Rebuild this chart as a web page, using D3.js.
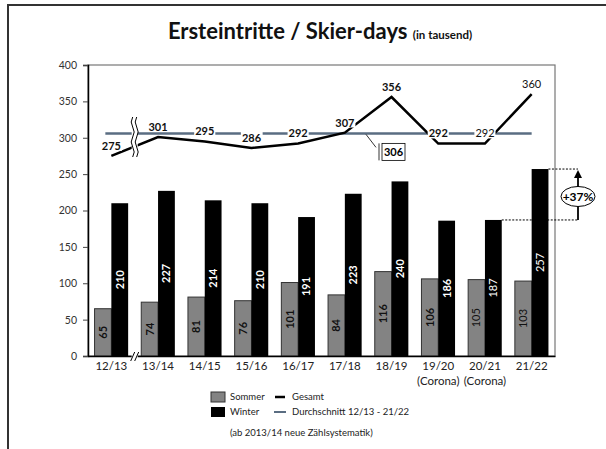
<!DOCTYPE html>
<html>
<head>
<meta charset="utf-8">
<script src="https://cdn.jsdelivr.net/npm/d3@7"></script>
<style>
  body { margin: 0; background: #fff; }
  text { font-family: Lato, "Open Sans", sans-serif; }
</style>
</head>
<body>
<svg id="svg1" width="606" height="449"></svg>
<script>
// data (thousands)
var seasons = ["12/13", "13/14", "14/15", "15/16", "16/17", "17/18", "18/19", "19/20", "20/21", "21/22"];
var subLabels = ["", "", "", "", "", "", "", "(Corona)", "(Corona)", ""];
var sommer = [65, 74, 81, 76, 101, 84, 116, 106, 105, 103];
var winter = [210, 227, 214, 210, 191, 223, 240, 186, 187, 257];
var gesamt = [275, 301, 295, 286, 292, 307, 356, 292, 292, 360];
var durchschnitt = 306;
var yTicks = [0, 50, 100, 150, 200, 250, 300, 350, 400];
var zuwachs = "+37%";

var svg = d3.select("#svg1");

var plotLeft = 88, plotRight = 555, plotTop = 65, plotBottom = 356;

var x = d3.scaleBand().domain(seasons).range([plotLeft, plotRight]).padding(0);
var xs = d3.scaleBand().domain(["s", "w"]).range([0, x.bandwidth()]).paddingInner(0).paddingOuter(0.39);
var y = d3.scaleLinear().domain([0, 400]).range([plotBottom, plotTop]);

function cx(i) { return x(seasons[i]) + x.bandwidth() / 2; }
function isBold(i) { return i < 8; }

// outer frame (only top + left visible)
svg.append("path")
   .attr("d", "M8,449 L8,5 L606,5")
   .attr("fill", "none")
   .attr("stroke", "#333")
   .attr("stroke-width", 2);

// title
var title = svg.append("text")
   .attr("x", 320)
   .attr("y", 39)
   .attr("text-anchor", "middle")
   .attr("font-weight", "bold")
   .attr("font-size", 22)
   .attr("fill", "#111");
title.append("tspan").text("Ersteintritte / Skier-days ");
title.append("tspan").attr("font-size", 11.5).text("(in tausend)");

// plot frame
svg.append("rect")
   .attr("x", plotLeft).attr("y", plotTop)
   .attr("width", plotRight - plotLeft).attr("height", plotBottom - plotTop)
   .attr("fill", "none")
   .attr("stroke", "#777")
   .attr("stroke-width", 1.2);

// y axis
var yAxis = svg.append("g")
   .attr("transform", "translate(" + plotLeft + ",0)")
   .call(d3.axisLeft(y).tickValues(yTicks).tickSize(5).tickPadding(6));
yAxis.select(".domain").attr("stroke", "#000").attr("stroke-width", 1.5);
yAxis.selectAll(".tick line").attr("stroke", "#444");
yAxis.selectAll(".tick text").attr("font-size", 10.5).attr("fill", "#333")
     .style("font-family", "Lato, sans-serif");

// bars
var g = svg.append("g");
seasons.forEach(function(s, i) {
  var x0 = x(s);
  g.append("rect")
   .attr("x", x0 + xs("s")).attr("y", y(sommer[i]))
   .attr("width", xs.bandwidth()).attr("height", y(0) - y(sommer[i]))
   .attr("fill", "#838383").attr("stroke", "#333").attr("stroke-width", 1);
  g.append("rect")
   .attr("x", x0 + xs("w")).attr("y", y(winter[i]))
   .attr("width", xs.bandwidth()).attr("height", y(0) - y(winter[i]))
   .attr("fill", "#000");

  var sx = x0 + xs("s") + xs.bandwidth() / 2, sy = (y(sommer[i]) + y(0)) / 2;
  g.append("text")
   .attr("transform", "translate(" + sx + "," + sy + ") rotate(-90)")
   .attr("text-anchor", "middle").attr("dy", "0.35em")
   .attr("font-size", 11).attr("font-weight", isBold(i) ? "bold" : "normal")
   .attr("fill", "#111").text(sommer[i]);

  var wx = x0 + xs("w") + xs.bandwidth() / 2, wy = (y(winter[i]) + y(0)) / 2;
  g.append("text")
   .attr("transform", "translate(" + wx + "," + wy + ") rotate(-90)")
   .attr("text-anchor", "middle").attr("dy", "0.35em")
   .attr("font-size", 11).attr("font-weight", isBold(i) ? "bold" : "normal")
   .attr("fill", "#fff").text(winter[i]);
});

// x axis
var xAxis = svg.append("g")
   .attr("transform", "translate(0," + plotBottom + ")")
   .call(d3.axisBottom(x).tickSize(0).tickPadding(6));
xAxis.select(".domain").attr("stroke", "#000").attr("stroke-width", 1.5);
xAxis.selectAll(".tick text").attr("font-size", 11.5).attr("fill", "#222")
     .style("font-family", "Lato, sans-serif");
xAxis.selectAll(".tick").append("text")
     .attr("y", 21).attr("dy", "0.71em")
     .attr("text-anchor", "middle")
     .attr("font-size", 11.5).attr("fill", "#222")
     .text(function(d, i) { return subLabels[i]; });

// axis break on x axis
var bx = x(seasons[1]);
svg.append("rect").attr("x", bx - 3).attr("y", plotBottom - 2).attr("width", 6).attr("height", 4).attr("fill", "#fff");
[-2, 2].forEach(function(o) {
  svg.append("line")
     .attr("x1", bx + o - 2).attr("y1", plotBottom + 5)
     .attr("x2", bx + o + 2).attr("y2", plotBottom - 4)
     .attr("stroke", "#000").attr("stroke-width", 1);
});

// average line
svg.append("line")
   .attr("x1", cx(0) - 6).attr("x2", cx(seasons.length - 1))
   .attr("y1", y(durchschnitt)).attr("y2", y(durchschnitt))
   .attr("stroke", "#5a6d82").attr("stroke-width", 2.5);

// total line
var line = d3.line().x(function(d, i) { return cx(i); }).y(function(d) { return y(d); });
svg.append("path")
   .datum(gesamt)
   .attr("d", line)
   .attr("fill", "none")
   .attr("stroke", "#000")
   .attr("stroke-width", 2.5);

// break mark on the total line
svg.append("rect").attr("x", bx - 3).attr("y", 117).attr("width", 6).attr("height", 40).attr("fill", "#fff");
[-2, 2].forEach(function(o) {
  var px = bx + o;
  svg.append("path")
     .attr("d", "M" + px + ",117 q-3,5 0,10 q3,5 0,10 q-3,5 0,10 q3,5 0,10")
     .attr("fill", "none").attr("stroke", "#000").attr("stroke-width", 1);
});

// labels on the total line
gesamt.forEach(function(v, i) {
  var t = svg.append("text")
     .attr("x", cx(i)).attr("y", y(v) - 10).attr("dy", "0.35em")
     .attr("text-anchor", "middle")
     .attr("font-size", 11).attr("font-weight", isBold(i) ? "bold" : "normal")
     .attr("fill", "#111").text(v);
  var bb = t.node().getBBox();
  svg.insert("rect", function() { return t.node(); })
     .attr("x", bb.x - 1).attr("y", bb.y + 1)
     .attr("width", bb.width + 2).attr("height", bb.height - 2)
     .attr("fill", "#fff");
});

// callout for the average value
var ay = y(durchschnitt);
svg.append("path")
   .attr("d", "M366," + (ay + 1) + " L376," + (ay + 14) + " M379," + (ay + 10) + " L379," + (ay + 27))
   .attr("fill", "none").attr("stroke", "#000").attr("stroke-width", 0.8);
svg.append("rect")
   .attr("x", 382).attr("y", ay + 10).attr("width", 23).attr("height", 17)
   .attr("fill", "#fff").attr("stroke", "#000").attr("stroke-width", 0.8);
svg.append("text")
   .attr("x", 393.5).attr("y", ay + 18.5).attr("dy", "0.35em")
   .attr("text-anchor", "middle").attr("font-size", 11).attr("font-weight", "bold")
   .text(durchschnitt);

// +37% annotation
var topY = y(winter[9]), botY = y(winter[8]), ax = 578;
svg.append("line")
   .attr("x1", x(seasons[9]) + xs("w") + xs.bandwidth()).attr("x2", ax)
   .attr("y1", topY).attr("y2", topY)
   .attr("stroke", "#000").attr("stroke-width", 1).attr("stroke-dasharray", "2,1.5");
svg.append("line")
   .attr("x1", x(seasons[8]) + xs("w") + xs.bandwidth()).attr("x2", ax)
   .attr("y1", botY).attr("y2", botY)
   .attr("stroke", "#000").attr("stroke-width", 1).attr("stroke-dasharray", "2,1.5");
svg.append("line")
   .attr("x1", ax).attr("x2", ax).attr("y1", botY).attr("y2", topY + 7)
   .attr("stroke", "#000").attr("stroke-width", 1.8);
svg.append("path")
   .attr("d", "M" + (ax - 4) + "," + (topY + 9) + " L" + ax + "," + (topY + 1) + " L" + (ax + 4) + "," + (topY + 9) + "Z")
   .attr("fill", "#000");
var my = (topY + botY) / 2 + 2;
svg.append("ellipse")
   .attr("cx", ax).attr("cy", my).attr("rx", 17).attr("ry", 10)
   .attr("fill", "#fff").attr("stroke", "#000").attr("stroke-width", 1);
svg.append("text")
   .attr("x", ax).attr("y", my).attr("dy", "0.35em")
   .attr("text-anchor", "middle").attr("font-size", 12).attr("font-weight", "bold")
   .text(zuwachs);

// legend
var leg = svg.append("g").attr("font-size", 9.5).attr("fill", "#222");
leg.append("rect").attr("x", 211).attr("y", 392).attr("width", 14).attr("height", 10)
   .attr("fill", "#838383").attr("stroke", "#333");
leg.append("text").attr("x", 230).attr("y", 397).attr("dy", "0.35em").text("Sommer");
leg.append("rect").attr("x", 211).attr("y", 407).attr("width", 14).attr("height", 10).attr("fill", "#000");
leg.append("text").attr("x", 230).attr("y", 412).attr("dy", "0.35em").text("Winter");
leg.append("line").attr("x1", 275).attr("x2", 285).attr("y1", 397).attr("y2", 397)
   .attr("stroke", "#000").attr("stroke-width", 2.5);
leg.append("text").attr("x", 292).attr("y", 397).attr("dy", "0.35em").text("Gesamt");
leg.append("line").attr("x1", 274).attr("x2", 286).attr("y1", 412).attr("y2", 412)
   .attr("stroke", "#5a6d82").attr("stroke-width", 2);
leg.append("text").attr("x", 292).attr("y", 412).attr("dy", "0.35em").text("Durchschnitt 12/13 - 21/22");
leg.append("text").attr("x", 230).attr("y", 433).attr("dy", "0.35em").text("(ab 2013/14 neue Zählsystematik)");
</script>
</body>
</html>
